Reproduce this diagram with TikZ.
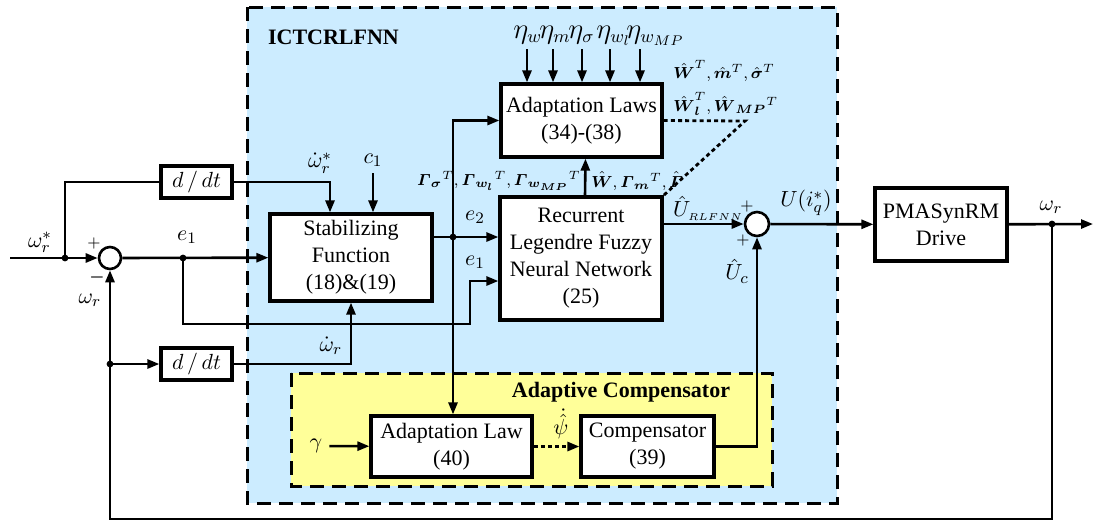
\documentclass[tikz,border=0pt]{standalone}
\usepackage{amsmath, amssymb}
\usepackage{fontspec}
\setmainfont{Liberation Serif}
\usepackage{xcolor}
\definecolor{colCtrl}{RGB}{204,236,255}
\definecolor{colComp}{RGB}{255,255,153}
\usetikzlibrary{arrows.meta, positioning, calc}

\tikzset{
  blk/.style={draw, line width=1.6pt, fill=white, align=center, inner sep=0pt},
  sumc/.style={circle, draw, line width=1.3pt, fill=white, minimum size=11pt, inner sep=0pt},
  arr/.style={-{Triangle[length=6pt,width=4.5pt]}, line width=1.3pt},
  ln/.style={line width=1.3pt},
  frame/.style={dash pattern=on 7pt off 4pt, line width=1.5pt},
  dotln/.style={dash pattern=on 2pt off 1.6pt, line width=1.4pt},
  sgn/.style={inner sep=0pt, font=\fontsize{8}{8}\selectfont},
  par/.style={inner sep=0pt, font=\fontsize{8.5}{10}\selectfont},
}

\begin{document}
\begin{tikzpicture}[x=0.5pt, y=-0.5pt, font=\fontsize{11}{13.5}\selectfont]
\useasboundingbox (0,0) rectangle (1095,521);

\draw[frame, fill=colCtrl] (247,7) rectangle (837,503);
\draw[frame, fill=colComp] (291,373) rectangle (772,486);
\node[anchor=west, font=\fontsize{11}{13}\selectfont\bfseries] (ttlA) at (261,37) {ICTCRLFNN};
\node[font=\fontsize{11}{13}\selectfont\bfseries] (ttlB) at (621,392) {Adaptive Compensator};

\node[blk, minimum width=80.5pt, minimum height=36.5pt] (al) at (581.5,120.5) {Adaptation Laws\\(34)-(38)};
\node[blk, minimum width=81pt, minimum height=61.5pt] (nn) at (581,258.5) {Recurrent\\Legendre Fuzzy\\Neural Network\\(25)};
\node[blk, minimum width=81pt, minimum height=43.5pt] (stab) at (351,257.5) {Stabilizing\\Function\\(18)\&(19)};
\node[blk, minimum width=35.5pt, minimum height=16pt] (ddtA) at (196.5,182) {$d\,/\,dt$};
\node[blk, minimum width=35.5pt, minimum height=16pt] (ddtB) at (196.5,364) {$d\,/\,dt$};
\node[blk, minimum width=66pt, minimum height=36.5pt] (drive) at (941,224.5) {PMASynRM\\Drive};
\node[blk, minimum width=80.5pt, minimum height=30.5pt] (adlaw) at (451.5,446.5) {Adaptation Law\\(40)};
\node[blk, minimum width=66.5pt, minimum height=30.5pt] (comp) at (647.5,446.5) {Compensator\\(39)};
\node[sumc] (sumA) at (110,258) {};
\node[sumc, minimum size=12pt] (sumB) at (757,224) {};

\coordinate (in) at (10,258);
\coordinate (out) at (1093,224);
\coordinate (jA) at (65,258);
\coordinate (jE) at (183,258);
\coordinate (jS) at (453,237);
\coordinate (jW) at (1052,224);
\coordinate (jB) at (110,364);
\coordinate (bend) at (470,324);
\coordinate (fb) at (110,519);
\coordinate (dc) at (745,121);

\foreach \x/\s [count=\i] in {527/w, 553/m, 582/\sigma, 610/{w_l}, 640/{w_{MP}}}{
  \node[anchor=base west, inner sep=0pt, font=\fontsize{13.5}{15}\selectfont] (eta\i) at ({\x-14},38) {$\eta_{\s}$};
  \draw[arr] ([xshift=7pt,yshift=-5.5pt]eta\i.base west) -- ([xshift=7pt]eta\i.base west |- al.north);
}

\node (wref) at (40,242) {$\omega_r^*$};
\node[sgn] (pA) at (94,243) {$+$};
\node[sgn] (mA) at (97,277) {$\boldsymbol{-}$};
\node (wfb) at (90,300) {$\omega_r$};
\node (eA) at (187,237) {$e_1$};
\node (dwref) at (320,163) {$\dot{\omega}_r^*$};
\node (cone) at (373,160) {$c_1$};
\node (dw) at (331,346) {$\dot{\omega}_r$};
\node (eB) at (475,217) {$e_2$};
\node (eC) at (475,262) {$e_1$};
\node[par, anchor=east] (gamL) at (581,181) {$\boldsymbol{\varGamma}_{\boldsymbol{\sigma}}{}^T{,}\,\boldsymbol{\varGamma}_{\boldsymbol{w_l}}{}^T{,}\,\boldsymbol{\varGamma}_{\boldsymbol{w_{MP}}}{}^T$};
\node[par, anchor=west] (gamR) at (591,181) {$\hat{\boldsymbol{W}}{,}\,\boldsymbol{\varGamma}_{\boldsymbol{m}}{}^T{,}\,\hat{\boldsymbol{\varGamma}}$};
\node[par, anchor=west] (parA) at (673,71) {$\hat{\boldsymbol{W}}^T{,}\,\hat{\boldsymbol{m}}^T{,}\,\hat{\boldsymbol{\sigma}}^T$};
\node[par, anchor=west] (parB) at (673,104) {$\hat{\boldsymbol{W}}_{\boldsymbol{l}}^T{,}\,\hat{\boldsymbol{W}}_{\boldsymbol{MP}}{}^T$};
\node (uNN) at (708,208) {$\hat{U}_{\scriptscriptstyle RLFNN}$};
\node[sgn] (pB) at (747,206) {$+$};
\node[sgn] (pC) at (743,240) {$+$};
\node (uC) at (737,271) {$\hat{U}_c$};
\node (uOut) at (806,203) {$U(i_q^*)$};
\node (wOut) at (1051,207) {$\omega_r$};
\node (gam) at (316,446) {$\gamma$};
\node (psi) at (561,424) {$\dot{\hat{\psi}}$};

\draw[arr] (in) -- (sumA);
\draw[ln] (jA) |- (ddtA);
\draw[arr] (ddtA) -| ([xshift=-10.5pt]stab.north);
\draw[arr] (cone) -- (cone |- stab.north);
\draw[arr] (sumA) -- (stab);
\draw[arr] (jE) |- (bend) |- ([yshift=-11.25pt]nn.west);
\draw[arr] (stab.east |- jS) -- (nn.west |- jS);
\draw[arr] (jS) |- (al);
\draw[arr] (jS) -- (jS |- adlaw.north);
\draw[arr] ([xshift=2pt]nn.north) -- ([xshift=2pt]al.south);
\draw[dotln] (al.east) -- (dc) -- (nn.north east);
\draw[arr] (nn.east |- sumB) -- (sumB);
\draw[arr] (sumB) -- (drive);
\draw[arr] (drive) -- (out);
\draw[arr] (jW) |- (fb) -- (sumA);
\draw[arr] (jB) -- (ddtB);
\draw[arr] (ddtB) -| (stab);
\draw[arr] (gam) -- (adlaw);
\draw[arr, dotln] (adlaw) -- (comp);
\draw[arr] (comp) -| (sumB);
\foreach \p in {jA, jE, jS, jW, jB} \fill (\p) circle (1.7pt);
\end{tikzpicture}
\end{document}
